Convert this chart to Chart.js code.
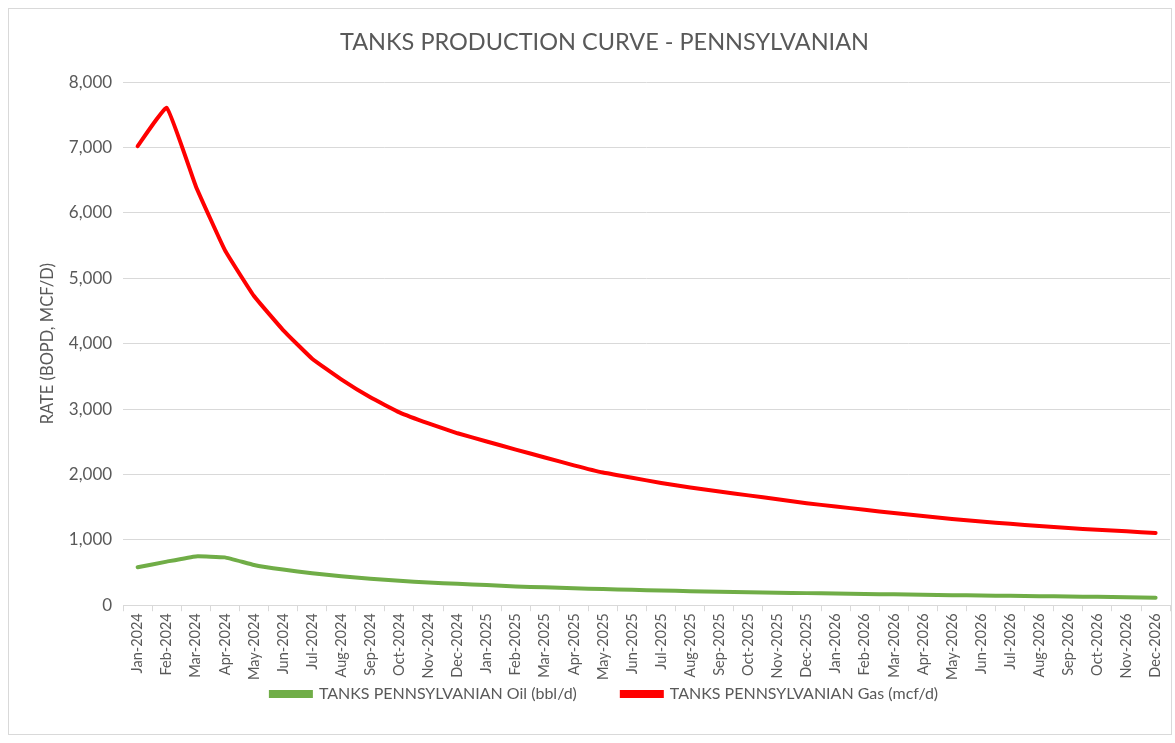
<!DOCTYPE html>
<html>
<head>
<meta charset="utf-8">
<script src="https://cdn.jsdelivr.net/npm/chart.js@4"></script>
<style>
  html, body { margin: 0; padding: 0; background: #fff; }
  #frame {
    position: absolute; left: 8px; top: 8px;
    width: 1164px; height: 727px;
    border: 1px solid #d9d9d9; box-sizing: border-box;
  }
  #wrap {
    position: absolute; left: 0; top: 8px;
    width: 1175px; height: 727px;
  }
</style>
</head>
<body>
<div id="frame"></div>
<div id="wrap"><canvas id="chart"></canvas></div>
<script>
const months = [
  "Jan-2024", "Feb-2024", "Mar-2024", "Apr-2024", "May-2024", "Jun-2024",
  "Jul-2024", "Aug-2024", "Sep-2024", "Oct-2024", "Nov-2024", "Dec-2024",
  "Jan-2025", "Feb-2025", "Mar-2025", "Apr-2025", "May-2025", "Jun-2025",
  "Jul-2025", "Aug-2025", "Sep-2025", "Oct-2025", "Nov-2025", "Dec-2025",
  "Jan-2026", "Feb-2026", "Mar-2026", "Apr-2026", "May-2026", "Jun-2026",
  "Jul-2026", "Aug-2026", "Sep-2026", "Oct-2026", "Nov-2026", "Dec-2026",
];

const oilRate = [
  581, 667, 747, 732, 616, 545, 490, 444, 404, 374, 348, 328,
  308, 288, 273, 258, 247, 235, 226, 214, 205, 198, 192, 185,
  178, 172, 166, 160, 154, 148, 143, 138, 133, 128, 122, 116,
];

const gasRate = [
  7022, 7608, 6410, 5432, 4729, 4209, 3771, 3455, 3180, 2950, 2780, 2630,
  2505, 2380, 2260, 2140, 2030, 1950, 1870, 1800, 1740, 1680, 1620, 1560,
  1510, 1460, 1410, 1365, 1320, 1280, 1245, 1210, 1180, 1155, 1130, 1105,
];

const yTicks = [0, 1000, 2000, 3000, 4000, 5000, 6000, 7000, 8000];

const FONT = "Lato, 'Open Sans', sans-serif";
const GREY = "#595959";

const cfg = {
  type: "line",
  data: {
    labels: months,
    datasets: [
      {
        label: "TANKS PENNSYLVANIAN Oil (bbl/d)",
        data: oilRate,
        borderColor: "#70ad47",
        backgroundColor: "#70ad47",
        borderWidth: 4,
        pointRadius: 0,
        tension: 0.1,
        borderCapStyle: "round",
      },
      {
        label: "TANKS PENNSYLVANIAN Gas (mcf/d)",
        data: gasRate,
        borderColor: "#ff0000",
        backgroundColor: "#ff0000",
        borderWidth: 4,
        pointRadius: 0,
        tension: 0.1,
        borderCapStyle: "round",
      },
    ],
  },
  options: {
    responsive: true,
    maintainAspectRatio: false,
    animation: false,
    layout: { padding: { top: 12, left: 34, right: 0, bottom: 23 } },
    plugins: {
      title: {
        display: true,
        text: "TANKS PRODUCTION CURVE - PENNSYLVANIAN",
        color: GREY,
        font: { family: FONT, size: 23.5, weight: "normal" },
        padding: { top: 8, bottom: 26 },
      },
      legend: {
        position: "bottom",
        labels: {
          color: GREY,
          font: { family: FONT, size: 16 },
          boxWidth: 40,
          boxHeight: 4,
          padding: 4,
          // wider gap between the two entries, like the original
          generateLabels: (chart) =>
            Chart.defaults.plugins.legend.labels
              .generateLabels(chart)
              .map((item, i) => (i === 0 ? { ...item, text: item.text + "          " } : item)),
        },
      },
      tooltip: { enabled: false },
    },
    scales: {
      x: {
        offset: true,
        grid: {
          offset: true,
          drawOnChartArea: false,
          color: "#d9d9d9",
          tickLength: 6,
        },
        border: { color: "#d9d9d9" },
        ticks: {
          color: GREY,
          font: { family: FONT, size: 14.5 },
          minRotation: 90,
          maxRotation: 90,
          autoSkip: false,
          padding: 2,
        },
      },
      y: {
        min: 0,
        max: 8000,
        afterBuildTicks: (axis) => {
          axis.ticks = yTicks.map((v) => ({ value: v }));
        },
        grid: { color: "#d9d9d9", drawTicks: false },
        border: { display: false },
        ticks: {
          color: GREY,
          font: { family: FONT, size: 17 },
          padding: 11,
          callback: (v) => v.toLocaleString("en-US"),
        },
        title: {
          display: true,
          text: "RATE (BOPD, MCF/D)",
          color: GREY,
          font: { family: FONT, size: 16.5, weight: "normal" },
          padding: { top: 4, bottom: 0 },
        },
      },
    },
  },
};

new Chart(document.getElementById("chart").getContext("2d"), cfg);
</script>
</body>
</html>
